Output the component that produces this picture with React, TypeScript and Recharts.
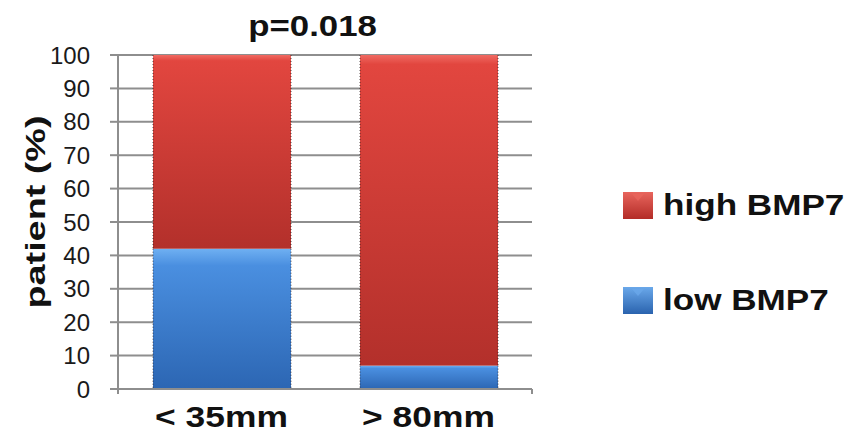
import { BarChart, Bar, XAxis, YAxis, CartesianGrid, Legend } from 'recharts';

// Share of patients per tumour size group, by BMP7 expression
const categories = ['< 35mm', '> 80mm'];
const lowBmp7 = [42, 7];
const highBmp7 = [58, 93];
const yTicks = [0, 10, 20, 30, 40, 50, 60, 70, 80, 90, 100];
const groupEdges = [0, 1, 2];

const data = categories.map((size, i) => ({
  size,
  low: lowBmp7[i],
  high: highBmp7[i],
}));

const FONT = '"Liberation Sans", Arial, sans-serif';
const GRID = '#8e8e8e';
const SIZE_AXIS_HEIGHT = 42;

const series = [
  { key: 'high', name: 'high BMP7', light: '#e8655d', icon: '#b32c27' },
  { key: 'low', name: 'low BMP7', light: '#6aa8ea', icon: '#2a63ae' },
];

// bar segment with dotted side edges
function BarShape(props: any) {
  const { x, y, width, height, fill } = props;
  if (!height || height <= 0) return null;
  return (
    <g>
      <rect x={x} y={y} width={width} height={height} fill={fill} />
      <line x1={x} y1={y} x2={x} y2={y + height} stroke="#2a1c1c" strokeOpacity={0.75} strokeDasharray="1 2" />
      <line x1={x + width} y1={y} x2={x + width} y2={y + height} stroke="#2a1c1c" strokeOpacity={0.75} strokeDasharray="1 2" />
    </g>
  );
}

function SizeTick(props: any) {
  const { x, y, payload } = props;
  return (
    <text
      transform={`translate(${x},${y}) scale(1.18,1)`}
      y={30}
      textAnchor="middle"
      fontFamily={FONT}
      fontWeight="bold"
      fontSize={30}
      fill="#111"
    >
      {payload.value}
    </text>
  );
}

// notch between the groups; this axis sits below the size axis, so step back up to the plot edge
function EdgeTick(props: any) {
  const { x, y } = props;
  const base = y - SIZE_AXIS_HEIGHT;
  return <line x1={x} y1={base} x2={x} y2={base + 5} stroke={GRID} strokeWidth={2} />;
}

function YLabel(props: any) {
  const { viewBox } = props;
  const cx = viewBox.x + 36;
  const cy = 212;
  return (
    <text
      transform={`translate(${cx},${cy}) rotate(-90) scale(1.4,1)`}
      textAnchor="middle"
      dominantBaseline="central"
      fontFamily={FONT}
      fontWeight="bold"
      fontSize={27}
      fill="#111"
    >
      patient (%)
    </text>
  );
}

function LegendBox() {
  return (
    <div style={{ fontFamily: FONT, position: 'relative' }}>
      {series.map((s, i) => (
        <div key={s.key} style={{ position: 'absolute', left: 0, top: i * 95, display: 'flex', alignItems: 'center' }}>
          <svg width={30} height={27}>
            <defs>
              <linearGradient id={`icon-${s.key}`} x1="0" y1="0" x2="0" y2="1">
                <stop offset="0%" stopColor={s.light} />
                <stop offset="100%" stopColor={s.icon} />
              </linearGradient>
            </defs>
            <rect x={0} y={0} width={30} height={27} fill={`url(#icon-${s.key})`} />
            <polygon points="9,2 21,2 15,9" fill={s.light} opacity={0.8} />
          </svg>
          <span
            style={{
              marginLeft: 10,
              fontSize: 30,
              fontWeight: 'bold',
              color: '#111',
              display: 'inline-block',
              transform: 'scaleX(1.17)',
              transformOrigin: 'left center',
              whiteSpace: 'nowrap',
            }}
          >
            {s.name}
          </span>
        </div>
      ))}
    </div>
  );
}

export default function App() {
  return (
    <div style={{ position: 'absolute', left: 0, top: 0, width: 852, height: 432, background: '#fff' }}>
      <div
        style={{
          position: 'absolute',
          left: 0,
          top: 9,
          width: 625,
          textAlign: 'center',
          fontFamily: FONT,
          fontWeight: 'bold',
          fontSize: 30,
          color: '#111',
          transform: 'scaleX(1.16)',
          transformOrigin: '312px 0',
        }}
      >
        p=0.018
      </div>
      <BarChart
        width={852}
        height={432}
        data={data}
        margin={{ top: 55, right: 320, bottom: 0, left: 0 }}
      >
        <defs>
          <linearGradient id="redFill" x1="0" y1="0" x2="0" y2="1">
            <stop offset="0%" stopColor="#f06a62" />
            <stop offset="3%" stopColor="#e2463f" />
            <stop offset="100%" stopColor="#b3302b" />
          </linearGradient>
          <linearGradient id="blueFill" x1="0" y1="0" x2="0" y2="1">
            <stop offset="0%" stopColor="#6fb0f2" />
            <stop offset="12%" stopColor="#4a8fe0" />
            <stop offset="100%" stopColor="#2c66b3" />
          </linearGradient>
        </defs>
        <CartesianGrid vertical={false} stroke={GRID} strokeWidth={2} />
        <XAxis
          xAxisId="edges"
          type="number"
          domain={[0, 2]}
          ticks={groupEdges}
          interval={0}
          height={1}
          tick={<EdgeTick />}
          tickLine={false}
          tickMargin={0}
          tickSize={0}
          axisLine={false}
        />
        <XAxis
          dataKey="size"
          height={SIZE_AXIS_HEIGHT}
          tick={<SizeTick />}
          tickLine={false}
          axisLine={{ stroke: GRID, strokeWidth: 2 }}
        />
        <YAxis
          width={118}
          domain={[0, 100]}
          ticks={yTicks}
          interval={0}
          tickSize={8}
          tickMargin={20}
          axisLine={{ stroke: GRID, strokeWidth: 2 }}
          tickLine={{ stroke: GRID, strokeWidth: 2 }}
          tick={{ fontFamily: FONT, fontSize: 24, fill: '#1a1a1a' }}
          label={<YLabel />}
        />
        <Legend
          layout="horizontal"
          verticalAlign="middle"
          align="center"
          wrapperStyle={{ position: 'absolute', left: 623, top: 188, width: 229, height: 130 }}
          content={<LegendBox />}
        />
        <Bar dataKey="low" name="low BMP7" stackId="a" barSize={138} fill="url(#blueFill)" shape={<BarShape />} isAnimationActive={false} />
        <Bar dataKey="high" name="high BMP7" stackId="a" barSize={138} fill="url(#redFill)" shape={<BarShape />} isAnimationActive={false} />
      </BarChart>
    </div>
  );
}
